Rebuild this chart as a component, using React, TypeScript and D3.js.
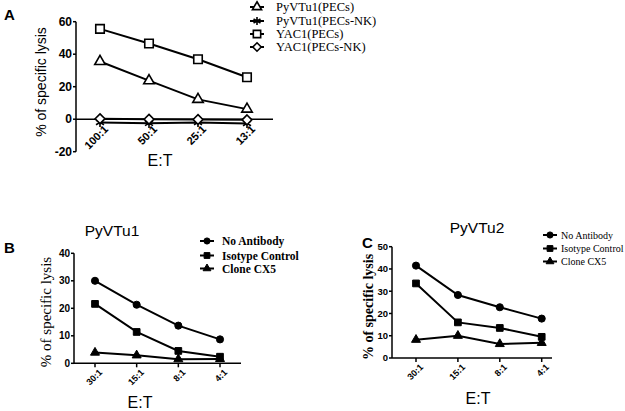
import React from "react";
import * as d3 from "d3";

// Panel A
const ratiosA = ["100:1", "50:1", "25:1", "13:1"];
const pyvtu1Pecs = [35.5, 23.7, 12.2, 6.2];
const pyvtu1PecsNk = [-2, -2.5, -2, -2.6];
const yac1Pecs = [55.6, 46.6, 36.9, 25.8];
const yac1PecsNk = [0.3, 0, -0.2, -0.4];
const ticksA = [-20, 0, 20, 40, 60];

// Panels B and C
const ratiosBC = ["30:1", "15:1", "8:1", "4:1"];
const noAbB = [30, 21.3, 13.7, 8.7];
const isoB = [21.6, 11.4, 4.5, 2.4];
const cx5B = [3.9, 2.9, 1.5, 1.6];
const ticksB = [0, 10, 20, 30, 40];
const noAbC = [41.5, 28.3, 22.8, 17.7];
const isoC = [33.5, 16, 13.5, 9.5];
const cx5C = [8.2, 10, 6.3, 6.8];
const ticksC = [0, 10, 20, 30, 40, 50];

const SANS = "'Liberation Sans', Arial, sans-serif";
const SERIF = "'Liberation Serif', 'Times New Roman', serif";

type Series = { name: string; values: number[]; shape: d3.SymbolType; size: number; filled: boolean };

const seriesA: Series[] = [
  { name: "PyVTu1(PECs)", values: pyvtu1Pecs, shape: d3.symbolTriangle, size: 48, filled: false },
  { name: "PyVTu1(PECs-NK)", values: pyvtu1PecsNk, shape: d3.symbolAsterisk, size: 60, filled: false },
  { name: "YAC1(PECs)", values: yac1Pecs, shape: d3.symbolSquare, size: 72, filled: false },
  { name: "YAC1(PECs-NK)", values: yac1PecsNk, shape: d3.symbolDiamond2, size: 60, filled: false },
];
const seriesB: Series[] = [
  { name: "No Antibody", values: noAbB, shape: d3.symbolCircle, size: 40, filled: true },
  { name: "Isotype Control", values: isoB, shape: d3.symbolSquare, size: 45, filled: true },
  { name: "Clone CX5", values: cx5B, shape: d3.symbolTriangle, size: 35, filled: true },
];
const seriesC: Series[] = [
  { name: "No Antibody", values: noAbC, shape: d3.symbolCircle, size: 40, filled: true },
  { name: "Isotype Control", values: isoC, shape: d3.symbolSquare, size: 45, filled: true },
  { name: "Clone CX5", values: cx5C, shape: d3.symbolTriangle, size: 35, filled: true },
];

type PanelProps = {
  letter: string;
  letterPos: [number, number];
  title?: string;
  titlePos?: [number, number];
  cats: string[];
  series: Series[];
  ticks: number[];
  axisX: number; // y axis position
  axisEnd: number; // x axis right end
  pointRange: [number, number];
  yDomain: [number, number];
  yRange: [number, number];
  xAxisAt: number; // value where the x axis sits
  yLabel: { x: number; y: number; font: string; size: number; weight: string };
  etPos: [number, number];
  tickFont: number;
  xTickFont: number;
  legend: { x: number; ys: number[]; textX: number; font: string; size: number; weight: string };
};

function Marker({ s, x, y }: { s: Series; x: number; y: number }) {
  const d = d3.symbol().type(s.shape).size(s.size)() as string;
  return (
    <path
      d={d}
      transform={`translate(${x},${y})`}
      fill={s.filled ? "#000" : "#fff"}
      stroke="#000"
      strokeWidth={s.filled ? 1 : 1.6}
    />
  );
}

function Panel(p: PanelProps) {
  const x = d3.scalePoint<string>().domain(p.cats).range(p.pointRange);
  const y = d3.scaleLinear().domain(p.yDomain).range(p.yRange);
  const line = d3
    .line<number>()
    .x((_, i) => x(p.cats[i]) ?? 0)
    .y((v) => y(v));
  const x0 = y(p.xAxisAt);
  return (
    <g>
      <text x={p.letterPos[0]} y={p.letterPos[1]} fontFamily={SANS} fontWeight="bold" fontSize={15}>
        {p.letter}
      </text>
      {p.title && p.titlePos && (
        <text x={p.titlePos[0]} y={p.titlePos[1]} fontFamily={SANS} fontSize={15.5} textAnchor="middle">
          {p.title}
        </text>
      )}
      {/* y axis */}
      <line x1={p.axisX} x2={p.axisX} y1={y(p.ticks[p.ticks.length - 1])} y2={y(p.ticks[0])} stroke="#000" strokeWidth={1.5} />
      {p.ticks.map((t) => (
        <g key={t}>
          <line x1={p.axisX - 3} x2={p.axisX} y1={y(t)} y2={y(t)} stroke="#000" strokeWidth={1.5} />
          <text
            x={p.axisX - 4}
            y={y(t)}
            dy="0.35em"
            textAnchor="end"
            fontFamily={SANS}
            fontWeight="bold"
            fontSize={p.tickFont}
          >
            {t}
          </text>
        </g>
      ))}
      {/* x axis */}
      <line x1={p.axisX} x2={p.axisEnd} y1={x0} y2={x0} stroke="#000" strokeWidth={1.5} />
      {p.cats.map((c) => {
        const cx = x(c) ?? 0;
        return (
          <g key={c}>
            <line x1={cx} x2={cx} y1={x0} y2={x0 + 4} stroke="#000" strokeWidth={1.5} />
            <text
              transform={`translate(${cx + 3},${x0 + 5}) rotate(-45)`}
              dy="0.75em"
              textAnchor="end"
              fontFamily={SANS}
              fontWeight="bold"
              fontSize={p.xTickFont}
            >
              {c}
            </text>
          </g>
        );
      })}
      <text
        transform={`translate(${p.yLabel.x},${p.yLabel.y}) rotate(-90)`}
        textAnchor="middle"
        fontFamily={p.yLabel.font}
        fontWeight={p.yLabel.weight}
        fontSize={p.yLabel.size}
      >
        % of specific lysis
      </text>
      <text x={p.etPos[0]} y={p.etPos[1]} textAnchor="middle" fontFamily={SANS} fontSize={16}>
        E:T
      </text>
      {/* series */}
      {p.series.map((s) => (
        <g key={s.name}>
          <path d={line(s.values) as string} fill="none" stroke="#000" strokeWidth={2} />
          {s.values.map((v, i) => (
            <Marker key={i} s={s} x={x(p.cats[i]) ?? 0} y={y(v)} />
          ))}
        </g>
      ))}
      {/* legend */}
      {p.series.map((s, i) => (
        <g key={s.name}>
          <line x1={p.legend.x - 7} x2={p.legend.x + 7} y1={p.legend.ys[i]} y2={p.legend.ys[i]} stroke="#000" strokeWidth={2} />
          <Marker s={{ ...s, size: s.size * 0.75 }} x={p.legend.x} y={p.legend.ys[i]} />
          <text
            x={p.legend.textX}
            y={p.legend.ys[i]}
            dy="0.35em"
            fontFamily={p.legend.font}
            fontWeight={p.legend.weight}
            fontSize={p.legend.size}
          >
            {s.name}
          </text>
        </g>
      ))}
    </g>
  );
}

export default function App() {
  return (
    <svg
      width={625}
      height={411}
      style={{ position: "absolute", left: 0, top: 0, background: "#fff" }}
    >
      <rect width={625} height={411} fill="#fff" />
      <Panel
        letter="A"
        letterPos={[4, 20]}
        cats={ratiosA}
        series={seriesA}
        ticks={ticksA}
        axisX={76}
        axisEnd={273}
        pointRange={[100, 247]}
        yDomain={[-20, 60]}
        yRange={[151.7, 21.7]}
        xAxisAt={0}
        yLabel={{ x: 46, y: 82, font: SANS, size: 14, weight: "normal" }}
        etPos={[160, 166]}
        tickFont={12}
        xTickFont={11}
        legend={{ x: 257, ys: [7, 21, 34, 47], textX: 276, font: SERIF, size: 12.5, weight: "normal" }}
      />
      <Panel
        letter="B"
        letterPos={[4, 253]}
        title="PyVTu1"
        titlePos={[112, 236]}
        cats={ratiosBC}
        series={seriesB}
        ticks={ticksB}
        axisX={74}
        axisEnd={241}
        pointRange={[95, 220]}
        yDomain={[0, 40]}
        yRange={[363.3, 253.3]}
        xAxisAt={0}
        yLabel={{ x: 51, y: 312, font: SERIF, size: 15, weight: "normal" }}
        etPos={[140, 408]}
        tickFont={10}
        xTickFont={9}
        legend={{ x: 207, ys: [241, 255.5, 268.5], textX: 222, font: SERIF, size: 11.5, weight: "bold" }}
      />
      <Panel
        letter="C"
        letterPos={[362, 248]}
        title="PyVTu2"
        titlePos={[477, 233]}
        cats={ratiosBC}
        series={seriesC}
        ticks={ticksC}
        axisX={392}
        axisEnd={552}
        pointRange={[416, 541.7]}
        yDomain={[0, 50]}
        yRange={[358, 246.7]}
        xAxisAt={0}
        yLabel={{ x: 373, y: 307, font: SERIF, size: 14, weight: "bold" }}
        etPos={[478, 404]}
        tickFont={9.5}
        xTickFont={9}
        legend={{ x: 550, ys: [235, 248.5, 261.5], textX: 561, font: SERIF, size: 10, weight: "normal" }}
      />
    </svg>
  );
}
